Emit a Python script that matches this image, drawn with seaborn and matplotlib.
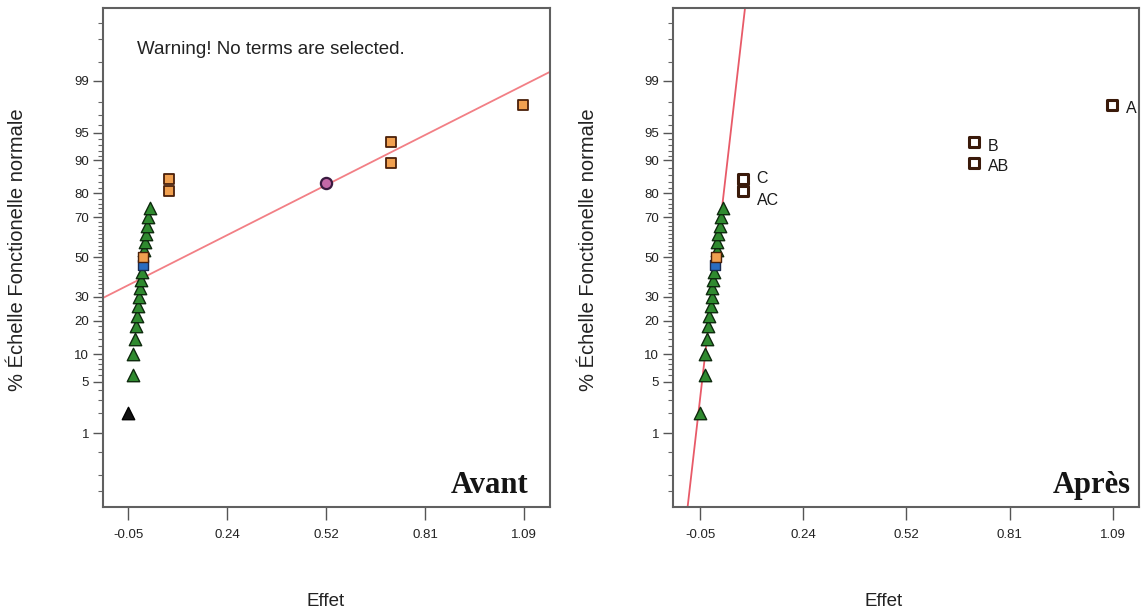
import matplotlib
matplotlib.use("Agg")
import matplotlib.pyplot as plt
import seaborn as sns
import pandas as pd
from statistics import NormalDist

sns.set_theme(style="white")
plt.rcParams['font.family'] = ['Liberation Sans', 'DejaVu Sans']

# ---------------- data (effect, normal % probability) ----------------
tri_effect = [-0.050, -0.036, -0.035, -0.031, -0.028, -0.025, -0.020, -0.018,
              -0.016, -0.014, -0.011, -0.004, -0.002, 0.001, 0.004, 0.008, 0.013]
tri_pct = [2, 6, 10, 14, 18, 22, 26, 30, 34, 38, 42, 54, 58, 62, 66, 70, 74]

blue_effect = [-0.008]
blue_pct = [46]
center_effect = [-0.007]
center_pct = [50]

sq_effect = [0.068, 0.068, 0.707, 0.707, 1.088]
sq_pct = [81.0, 85.0, 89.4, 93.6, 97.8]
sq_labels = ["AC", "C", "AB", "B", "A"]

pink_effect = [0.52]
pink_pct = [83.6]

lineL_effect = [-0.122, 1.165]
lineL_pct = [29.5, 99.28]
lineR_effect = [-0.0843, 0.0743]
lineR_pct = [0.048, 99.95]

xticks = [-0.05, 0.235, 0.52, 0.805, 1.09]
xtick_labels = ["-0.05", "0.24", "0.52", "0.81", "1.09"]
ytick_pct = [1, 5, 10, 20, 30, 50, 70, 80, 90, 95, 99]
yminor_pct = [0.1, 0.2, 0.5, 2, 3, 4, 6, 7, 8, 9, 12, 14, 16, 18, 22, 24, 26, 28,
              32, 34, 36, 38, 40, 42, 44, 46, 48, 52, 54, 56, 58, 60, 62, 64, 66, 68,
              72, 74, 76, 78, 82, 84, 86, 88, 91, 92, 93, 94, 96, 97, 98, 99.5, 99.8, 99.9]

ND = NormalDist()
def z(p):
    return ND.inv_cdf(p / 100.0)

def frame(eff, pct):
    return pd.DataFrame({"Effet": eff, "z": [z(p) for p in pct]})

tri = frame(tri_effect, tri_pct)
blue = frame(blue_effect, blue_pct)
cen = frame(center_effect, center_pct)
sq = frame(sq_effect, sq_pct)
pink = frame(pink_effect, pink_pct)
lineL = frame(lineL_effect, lineL_pct)
lineR = frame(lineR_effect, lineR_pct)

W, H = 1141, 614
fig = plt.figure(figsize=(W / 100, H / 100), dpi=100)
axL = fig.add_axes([103 / W, 1 - 507 / H, 447 / W, 499 / H])
axR = fig.add_axes([673 / W, 1 - 507 / H, 466 / W, 499 / H])

GREEN = "#2f8a2f"
GREEN_E = "#0e2a0e"
ORANGE = "#f0a050"
BROWN = "#4a200a"
BLUE = "#2a6cc0"
PINK = "#c468a8"

def style_axes(ax, xlim):
    ax.set_xlim(*xlim)
    ax.set_ylim(-3.30, 3.29)
    ax.set_xticks(xticks)
    ax.set_xticklabels(xtick_labels)
    ax.set_yticks([z(p) for p in ytick_pct])
    ax.set_yticklabels([str(p) for p in ytick_pct])
    ax.set_yticks([z(p) for p in yminor_pct], minor=True)
    ax.tick_params(axis="y", which="major", length=7, width=1, color="#555555",
                   labelsize=9.5, labelcolor="#222222", pad=3, left=True)
    ax.tick_params(axis="y", which="minor", length=3.5, width=0.8, color="#666666", left=True)
    ax.tick_params(axis="x", which="major", length=9, width=1, color="#555555",
                   labelsize=9.5, labelcolor="#222222", pad=7, bottom=True)
    for s in ax.spines.values():
        s.set_color("#606060")
        s.set_linewidth(1.5)
        s.set_visible(True)
    ax.set_xlabel("")
    ax.set_ylabel("")

# ---------------- left panel: Avant ----------------
sns.lineplot(data=lineL, x="Effet", y="z", ax=axL, color="#f27f85", linewidth=1.3, zorder=2)
sns.scatterplot(data=tri.iloc[1:], x="Effet", y="z", ax=axL, marker="^", s=80,
                color=GREEN, edgecolor=GREEN_E, linewidth=1.0, zorder=3, legend=False)
sns.scatterplot(data=tri.iloc[:1], x="Effet", y="z", ax=axL, marker="^", s=80,
                color="#111111", edgecolor="#000000", linewidth=1.0, zorder=3, legend=False)
sns.scatterplot(data=blue, x="Effet", y="z", ax=axL, marker="s", s=42,
                color=BLUE, edgecolor="#1a2a50", linewidth=1.0, zorder=4, legend=False)
sns.scatterplot(data=cen, x="Effet", y="z", ax=axL, marker="s", s=42,
                color=ORANGE, edgecolor=BROWN, linewidth=1.0, zorder=4, legend=False)
sns.scatterplot(data=sq, x="Effet", y="z", ax=axL, marker="s", s=42,
                color=ORANGE, edgecolor=BROWN, linewidth=1.3, zorder=4, legend=False)
sns.scatterplot(data=pink, x="Effet", y="z", ax=axL, marker="o", s=65,
                color=PINK, edgecolor="#3a1a40", linewidth=1.6, zorder=4, legend=False)
style_axes(axL, (-0.122, 1.165))
axL.text(0.076, 0.916, "Warning! No terms are selected.", transform=axL.transAxes,
         fontsize=13.5, color="#222222", ha="left", va="center")
axL.text(0.951, 0.028, "Avant", transform=axL.transAxes, fontsize=22,
         fontweight="bold", family=["Liberation Serif", "DejaVu Serif"],
         color="#151515", ha="right", va="baseline")

# ---------------- right panel: Après ----------------
sns.lineplot(data=lineR, x="Effet", y="z", ax=axR, color="#e85a68", linewidth=1.3, zorder=2)
sns.scatterplot(data=tri, x="Effet", y="z", ax=axR, marker="^", s=80,
                color=GREEN, edgecolor=GREEN_E, linewidth=1.0, zorder=3, legend=False)
sns.scatterplot(data=blue, x="Effet", y="z", ax=axR, marker="s", s=42,
                color=BLUE, edgecolor="#1a2a50", linewidth=1.0, zorder=4, legend=False)
sns.scatterplot(data=cen, x="Effet", y="z", ax=axR, marker="s", s=42,
                color=ORANGE, edgecolor=BROWN, linewidth=1.0, zorder=4, legend=False)
sns.scatterplot(data=sq, x="Effet", y="z", ax=axR, marker="s", s=55,
                color="white", edgecolor="#3a1a0a", linewidth=2.2, zorder=4, legend=False)
label_dy = {"AC": -7, "C": 0, "AB": -3, "B": -3, "A": -3}
for ex, zz, lab in zip(sq["Effet"], sq["z"], sq_labels):
    axR.annotate(lab, (ex, zz), xytext=(10, label_dy[lab]), textcoords="offset points",
                 fontsize=11.5, color="#1a1a1a", ha="left", va="center",
                 annotation_clip=False)
style_axes(axR, (-0.1246, 1.1623))
axR.text(0.983, 0.028, "Après", transform=axR.transAxes, fontsize=22,
         fontweight="bold", family=["Liberation Serif", "DejaVu Serif"],
         color="#151515", ha="right", va="baseline")

# ---------------- axis titles ----------------
for xc in (18, 588):
    fig.text(xc / W, 1 - 250 / H, "% Échelle Fonctionelle normale", rotation=90,
             fontsize=14.5, color="#222222", ha="center", va="center")
for xc in (326, 884):
    fig.text(xc / W, 1 - 601 / H, "Effet", fontsize=13.5, color="#222222",
             ha="center", va="center")

fig.savefig("out.png", dpi=100)
